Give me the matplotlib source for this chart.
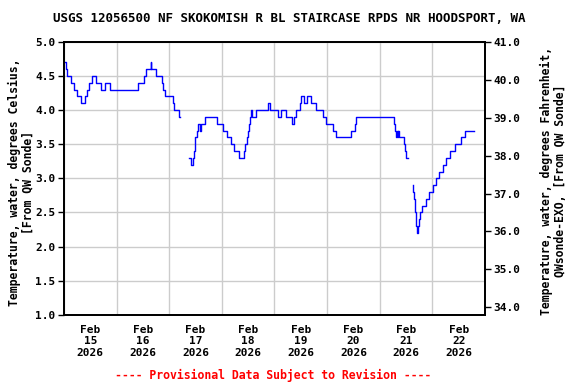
import numpy as np
import matplotlib.pyplot as plt

# USGS 12056500 water temperature, 15-min data
# time = hours since Feb 15 2026 00:00, value in degrees C (value holds until next time)
seg1_hours = [0.3, 0.76, 1.52, 3.04, 4.55, 5.8, 7.59, 9.56, 10.63, 11.5, 12.6, 14.57,
              16.7, 18.67, 20.95, 33.85, 36.6, 37.5, 39.6, 39.9, 42.2, 44.5, 45.2, 46.0,
              49.8, 50.3, 52.5, 52.8]
seg1_temps = [4.7, 4.6, 4.5, 4.4, 4.3, 4.2, 4.1, 4.2, 4.3, 4.4, 4.5, 4.4,
              4.3, 4.4, 4.3, 4.4, 4.5, 4.6, 4.7, 4.6, 4.5, 4.4, 4.3, 4.2,
              4.1, 4.0, 3.9, 3.9]

seg2_hours = [56.93, 58.14, 58.9, 59.35, 59.7, 59.96, 60.57, 61.17, 61.93, 62.39, 64.52,
              69.83, 72.56, 74.54, 76.05, 77.57, 79.7, 81.97, 82.73, 83.34, 83.95, 84.4,
              85.0, 85.46, 85.91, 87.5, 93.05, 94.11, 97.61, 98.82, 101.4, 104.14, 105.05,
              106.0, 107.47, 108.23, 109.45, 110.97, 112.79, 115.07, 118.1, 119.62, 122.66,
              124.0, 131.0, 132.5, 133.28, 150.28, 151.04, 151.5, 151.8, 152.2, 152.5, 153.0,
              155.0, 155.5, 156.0, 156.9]
seg2_temps = [3.3, 3.2, 3.3, 3.4, 3.5, 3.6, 3.7, 3.8, 3.7, 3.8, 3.9,
              3.8, 3.7, 3.6, 3.5, 3.4, 3.3, 3.4, 3.5, 3.6, 3.7, 3.8,
              3.9, 4.0, 3.9, 4.0, 4.1, 4.0, 3.9, 4.0, 3.9, 3.8, 3.9,
              4.0, 4.1, 4.2, 4.1, 4.2, 4.1, 4.0, 3.9, 3.8, 3.7,
              3.6, 3.7, 3.8, 3.9, 3.8, 3.7, 3.6, 3.7, 3.6, 3.7, 3.6,
              3.5, 3.4, 3.3, 3.3]

seg3_hours = [159.09, 159.39, 159.85, 160.1, 160.3, 160.5, 160.76, 160.9, 161.36, 161.82,
              162.27, 163.18, 165.16, 166.4, 168.19, 169.71, 170.9, 172.7, 174.3, 176.1,
              178.5, 181.1, 182.9, 187.2]
seg3_temps = [2.9, 2.8, 2.7, 2.6, 2.5, 2.4, 2.3, 2.2, 2.3, 2.4,
              2.5, 2.6, 2.7, 2.8, 2.9, 3.0, 3.1, 3.2, 3.3, 3.4,
              3.5, 3.6, 3.7, 3.7]

day_labels = ["Feb\n15\n2026", "Feb\n16\n2026", "Feb\n17\n2026", "Feb\n18\n2026",
              "Feb\n19\n2026", "Feb\n20\n2026", "Feb\n21\n2026", "Feb\n22\n2026"]
c_ticks = [1.0, 1.5, 2.0, 2.5, 3.0, 3.5, 4.0, 4.5, 5.0]
f_ticks = [34.0, 35.0, 36.0, 37.0, 38.0, 39.0, 40.0, 41.0]

title = "USGS 12056500 NF SKOKOMISH R BL STAIRCASE RPDS NR HOODSPORT, WA"

plt.rcParams['font.family'] = 'DejaVu Sans Mono'
plt.rcParams['font.weight'] = 'bold'

fig = plt.figure(figsize=(5.76, 3.84), dpi=100)
ax = fig.add_axes([0.111, 0.180, 0.731, 0.711])

for h, t in [(seg1_hours, seg1_temps), (seg2_hours, seg2_temps), (seg3_hours, seg3_temps)]:
    ax.plot(h, t, color='#0000ff', lw=1, drawstyle='steps-post')

ax.set_xlim(0, 192)
ax.set_ylim(1.0, 5.0)
ax.set_xticks(np.arange(0, 193, 24))
ax.set_xticklabels([])
ax.set_xticks(np.arange(12, 192, 24), minor=True)
ax.set_xticklabels(day_labels, minor=True, fontsize=8, fontweight='bold')
ax.tick_params(axis='x', which='both', length=0, pad=7)
ax.set_yticks(c_ticks)
ax.set_yticklabels([f"{v:.1f}" for v in c_ticks], fontsize=8, fontweight='bold')
ax.tick_params(axis='y', length=4, width=1, pad=2)
ax.grid(True, color='#cccccc', lw=1)
ax.set_axisbelow(True)
for s in ax.spines.values():
    s.set_linewidth(1.3)

ax2 = ax.twinx()
ax2.set_ylim(1.0 * 1.8 + 32, 5.0 * 1.8 + 32)
ax2.set_yticks(f_ticks)
ax2.set_yticklabels([f"{v:.1f}" for v in f_ticks], fontsize=8, fontweight='bold')
ax2.tick_params(axis='y', length=4, width=1, pad=2)
for s in ax2.spines.values():
    s.set_linewidth(1.3)

fig.text(0.502, 0.953, title, ha='center', va='center', fontsize=9, fontweight='bold')
fig.text(0.037, 0.525, "Temperature, water, degrees Celsius,\n[From QW Sonde]",
         rotation=90, ha='center', va='center', fontsize=8.3, fontweight='bold',
         multialignment='center', linespacing=1.1)
fig.text(0.96, 0.529, "Temperature, water, degrees Fahrenheit,\nQWsonde-EXO, [From QW Sonde]",
         rotation=90, ha='center', va='center', fontsize=8.3, fontweight='bold',
         multialignment='center', linespacing=1.1)
fig.text(0.475, 0.021, "---- Provisional Data Subject to Revision ----", color='red',
         ha='center', va='center', fontsize=8.3, fontweight='bold')

fig.savefig('out.png', dpi=100)
